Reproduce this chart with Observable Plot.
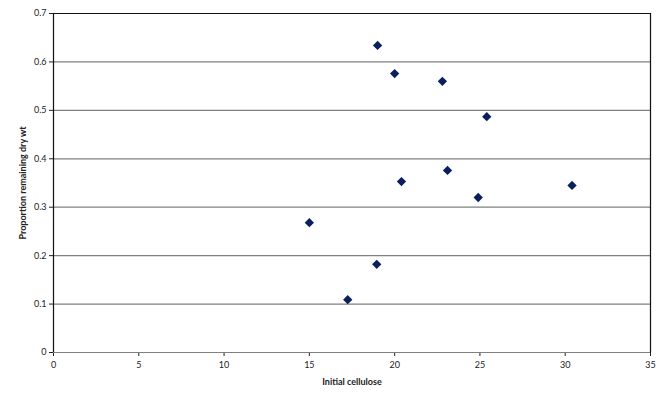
<!DOCTYPE html>
<html>
<head>
<meta charset="utf-8">
<script src="https://cdn.jsdelivr.net/npm/d3@7"></script>
<script src="https://cdn.jsdelivr.net/npm/@observablehq/plot@0.6"></script>
<style>
  html, body { margin: 0; padding: 0; background: #fff; }
  #chart svg { display: block; }
</style>
</head>
<body>
<div id="chart"></div>
<script>
const initialCellulose = [19.0, 20.0, 22.8, 25.4, 23.1, 20.4, 24.9, 30.4, 15.0, 18.95, 17.25];
const proportionRemaining = [0.634, 0.576, 0.560, 0.487, 0.376, 0.353, 0.320, 0.345, 0.268, 0.182, 0.109];
const xTicks = [0, 5, 10, 15, 20, 25, 30, 35];
const yTicks = [0, 0.1, 0.2, 0.3, 0.4, 0.5, 0.6, 0.7];
const gridY = [0, 0.1, 0.2, 0.3, 0.4, 0.5, 0.6];

const data = initialCellulose.map((x, i) => ({x, y: proportionRemaining[i]}));

const chart = Plot.plot({
  width: 669,
  height: 401,
  marginLeft: 53,
  marginRight: 19,
  marginTop: 13,
  marginBottom: 49,
  style: {fontFamily: "Lato, 'Open Sans', sans-serif", fontSize: "9px", color: "#222"},
  x: {domain: [0, 35], ticks: xTicks, tickSize: 4, tickPadding: 5, label: "Initial cellulose", labelAnchor: "center", labelArrow: "none", labelOffset: 32, tickFormat: d => String(d)},
  y: {domain: [0, 0.7], ticks: yTicks, tickSize: 4, tickPadding: 3, label: "Proportion remaining dry wt", labelAnchor: "center", labelArrow: "none", labelOffset: 34, tickFormat: d => d === 0 ? "0" : String(d)},
  marks: [
    Plot.ruleY(gridY, {stroke: "#808080", strokeWidth: 1.2}),
    Plot.ruleY([0.7], {stroke: "#111", strokeWidth: 1.2}),
    Plot.ruleX([0, 35], {stroke: "#111", strokeWidth: 1.2}),
    Plot.dot(data, {x: "x", y: "y", symbol: "diamond2", r: 4.2, fill: "#0b1f5c", stroke: "none"})
  ]
});

d3.select(chart).selectAll("[aria-label='x-axis label'] text, [aria-label='y-axis label'] text")
  .style("font-weight", "bold");
document.getElementById("chart").appendChild(chart);
</script>
</body>
</html>
